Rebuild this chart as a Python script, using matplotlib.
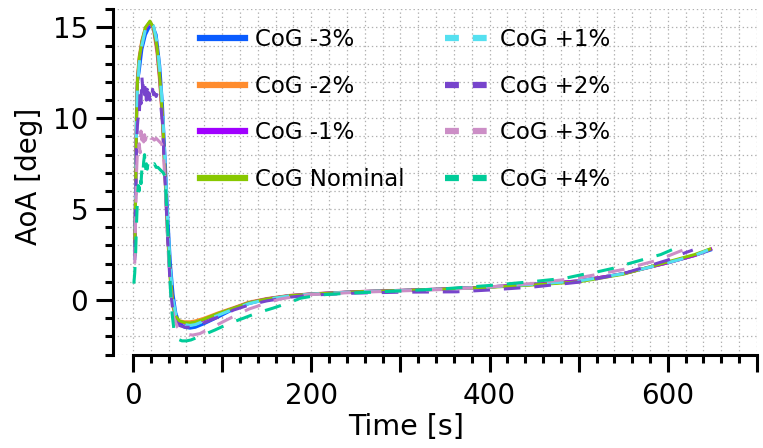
import matplotlib.pyplot as plt
from matplotlib.ticker import MultipleLocator, FixedLocator, FuncFormatter

plt.rcParams['font.family'] = ['DejaVu Sans']
plt.rcParams['lines.scale_dashes'] = False

# AoA history for each centre-of-gravity case (time [s], AoA [deg])
t_m3 = [2, 3, 4, 5, 7, 10, 14, 18, 22, 26, 30, 33, 36, 39, 42, 45, 48, 52, 58, 64, 70, 80, 95, 113, 130,
        150, 175, 200, 250, 300, 350, 400, 450, 500, 550, 600, 630, 648]
a_m3 = [2.6, 6.5, 10.5, 12.0, 12.6, 13.8, 14.6, 15.0, 15.1, 14.6, 12.9, 10.8, 7.8, 4.6, 2.0, 0.3, -0.7, -1.3,
        -1.5, -1.55, -1.5, -1.3, -0.95, -0.5, -0.2, 0.05, 0.22, 0.33, 0.45, 0.52, 0.6, 0.72, 0.87, 1.05,
        1.45, 2.05, 2.45, 2.75]

t_m2 = [2, 3, 4, 5, 7, 10, 14, 19, 23, 27, 30, 33, 36, 39, 42, 45, 48, 52, 58, 64, 70, 80, 95, 113, 130,
        150, 175, 200, 250, 300, 350, 400, 450, 500, 550, 600, 630, 648]
a_m2 = [2.4, 6.2, 10.2, 12.3, 13.4, 14.3, 15.0, 15.3, 14.9, 13.6, 12.0, 9.9, 6.7, 3.4, 1.0, -0.4, -0.95, -1.15,
        -1.2, -1.2, -1.15, -1.0, -0.72, -0.42, -0.12, 0.08, 0.25, 0.34, 0.46, 0.53, 0.61, 0.72, 0.86, 1.05,
        1.45, 2.05, 2.45, 2.8]

t_m1 = [2, 3, 4, 5, 7, 10, 14, 19, 23, 27, 30, 33, 36, 39, 42, 45, 48, 52, 58, 64, 70, 80, 95, 113, 130,
        150, 175, 200, 250, 300, 350, 400, 450, 500, 550, 600, 630, 648]
a_m1 = [2.3, 6.0, 9.8, 12.0, 13.2, 14.2, 14.9, 15.3, 15.0, 13.8, 12.2, 10.1, 6.9, 3.6, 1.2, -0.3, -0.9, -1.2,
        -1.28, -1.3, -1.25, -1.08, -0.78, -0.45, -0.15, 0.06, 0.24, 0.33, 0.46, 0.53, 0.61, 0.72, 0.86, 1.05,
        1.45, 2.05, 2.45, 2.8]

t_nom = [2, 3, 4, 5, 7, 10, 14, 19, 23, 27, 30, 33, 36, 39, 42, 45, 48, 52, 58, 64, 70, 80, 95, 113, 130,
         150, 175, 200, 250, 300, 350, 400, 450, 500, 550, 600, 630, 647]
a_nom = [2.5, 6.0, 10.0, 12.0, 13.3, 14.2, 15.0, 15.35, 15.0, 13.9, 12.3, 10.2, 7.0, 3.7, 1.2, -0.3, -0.9, -1.15,
         -1.25, -1.27, -1.22, -1.05, -0.75, -0.45, -0.15, 0.05, 0.23, 0.32, 0.45, 0.52, 0.6, 0.7, 0.83, 1.0,
         1.42, 2.1, 2.5, 2.8]

t_p1 = [2, 3, 4, 5, 7, 10, 14, 19, 23, 27, 30, 33, 36, 39, 42, 45, 48, 52, 58, 64, 70, 80, 95, 113, 130,
        150, 175, 200, 250, 300, 350, 400, 450, 500, 550, 600, 630, 645]
a_p1 = [2.2, 5.6, 9.4, 11.6, 13.0, 14.0, 14.9, 15.3, 15.1, 14.2, 12.7, 10.7, 7.6, 4.3, 1.7, 0.0, -0.8, -1.2,
        -1.35, -1.4, -1.35, -1.15, -0.85, -0.5, -0.2, 0.03, 0.22, 0.32, 0.45, 0.52, 0.6, 0.72, 0.87, 1.05,
        1.45, 2.05, 2.45, 2.75]

t_p2 = [2, 3, 4, 5, 6, 7, 8, 9, 10, 11, 12, 13, 14, 15, 16, 17, 18, 19, 20, 21, 22, 23, 24, 25, 26, 27, 28,
        29, 30, 31, 33, 36, 39, 42, 45, 48, 52, 58, 64, 70, 80, 95, 113, 130, 150, 175, 200, 250, 300, 363,
        400, 450, 500, 550, 600, 611, 628]
a_p2 = [2.4, 5.5, 8.5, 9.6, 10.2, 10.0, 11.5, 10.8, 12.3, 11.6, 12.2, 11.3, 11.9, 11.0, 11.6, 10.9, 11.4, 11.0,
        11.3, 11.1, 11.6, 11.3, 11.4, 11.3, 11.2, 11.3, 11.1, 11.1, 11.0, 10.8, 9.8, 6.6, 3.3, 0.6, -0.7, -1.2,
        -1.4, -1.5, -1.5, -1.45, -1.25, -0.95, -0.55, -0.28, -0.05, 0.15, 0.27, 0.38, 0.43, 0.45, 0.55, 0.72,
        0.98, 1.45, 2.2, 2.45, 2.75]

t_p3 = [2, 3, 4, 5, 6, 7, 8, 9, 10, 11, 12, 13, 14, 15, 16, 17, 18, 19, 20, 22, 24, 26, 28, 30, 32, 34, 37,
        40, 43, 46, 50, 56, 62, 67, 75, 85, 101, 115, 130, 150, 165, 185, 200, 250, 300, 350, 400, 450, 500,
        550, 589, 622]
a_p3 = [2.0, 4.5, 7.0, 8.2, 8.0, 8.6, 8.1, 9.3, 8.8, 9.2, 8.7, 9.1, 8.8, 9.0, 8.9, 9.1, 8.9, 9.0, 8.9, 8.9,
        8.8, 8.9, 8.8, 8.7, 8.6, 8.3, 5.4, 2.2, 0.0, -1.0, -1.5, -1.8, -1.9, -1.93, -1.85, -1.6, -1.2, -0.85,
        -0.5, -0.17, 0.05, 0.22, 0.3, 0.42, 0.5, 0.58, 0.72, 0.92, 1.22, 1.68, 2.2, 2.85]

t_p4 = [1, 2, 3, 4, 5, 6, 7, 8, 9, 10, 11, 12, 13, 14, 15, 16, 17, 18, 19, 20, 22, 24, 26, 28, 30, 32, 34,
        36, 38, 40, 42, 44, 46, 48, 50, 55, 60, 65, 70, 80, 92, 109, 124, 140, 157, 175, 188, 210, 244, 300,
        350, 400, 450, 485, 504, 521, 539, 556, 574, 592, 611]
a_p4 = [0.9, 1.5, 2.6, 4.2, 5.6, 6.3, 6.0, 6.8, 6.4, 7.2, 6.9, 7.6, 8.0, 7.1, 7.5, 7.2, 7.6, 7.4, 7.5, 7.5,
        7.4, 7.5, 7.3, 7.3, 7.2, 7.1, 7.0, 6.8, 4.8, 2.8, 0.6, -0.8, -1.65, -2.0, -2.15, -2.25, -2.25, -2.2,
        -2.1, -1.9, -1.65, -1.27, -1.0, -0.7, -0.45, -0.15, 0.1, 0.28, 0.38, 0.5, 0.62, 0.8, 1.02, 1.2, 1.4,
        1.55, 1.75, 2.0, 2.25, 2.5, 2.9]

labels = ['CoG -3%', 'CoG -2%', 'CoG -1%', 'CoG Nominal',
          'CoG +1%', 'CoG +2%', 'CoG +3%', 'CoG +4%']
colors = ['#0a5cff', '#ff8c2e', '#a000ff', '#88c800',
          '#55e0f0', '#7744cc', '#cc8ec6', '#00cc99']
series = [(t_m3, a_m3), (t_m2, a_m2), (t_m1, a_m1), (t_nom, a_nom),
          (t_p1, a_p1), (t_p2, a_p2), (t_p3, a_p3), (t_p4, a_p4)]

fig = plt.figure(figsize=(7.63, 4.48), dpi=100)
ax = fig.add_axes([0.1481, 0.2087, 0.8440, 0.7705])

for i, ((t, a), lab, col) in enumerate(zip(series, labels, colors)):
    if i < 4:
        ax.plot(t, a, color=col, lw=2.2, label=lab, solid_joinstyle='round')
    else:
        ax.plot(t, a, color=col, lw=2.2, label=lab, dashes=(12, 10))

ax.set_xlim(-22.4, 700)
ax.set_ylim(-3, 16)

# time axis starts at 0: long ticks every 100 s, short ones every 20 s
ax.xaxis.set_major_locator(FixedLocator(list(range(0, 701, 100))))
ax.xaxis.set_minor_locator(FixedLocator([v for v in range(0, 701, 20) if v % 100]))
ax.xaxis.set_major_formatter(FuncFormatter(lambda v, p: f'{v:.0f}' if v % 200 == 0 else ''))
ax.yaxis.set_major_locator(MultipleLocator(5))
ax.yaxis.set_minor_locator(MultipleLocator(1))

for s in ['top', 'right']:
    ax.spines[s].set_visible(False)
for s in ['left', 'bottom']:
    ax.spines[s].set_linewidth(2.2)
ax.spines['bottom'].set_bounds(0, 700)

ax.tick_params(which='major', direction='out', length=12, width=2.2, labelsize=20, pad=6)
ax.tick_params(which='minor', direction='out', length=6, width=2.2)
ax.tick_params(axis='x', which='major', pad=8)

ax.grid(which='both', color='#b0b0b0', linestyle=(0, (1, 2)), linewidth=0.9)
ax.set_axisbelow(True)

ax.set_xlabel('Time [s]', fontsize=20.5)
ax.set_ylabel('AoA [deg]', fontsize=20)
ax.xaxis.set_label_coords(0.455, -0.17)
ax.yaxis.set_label_coords(-0.108, 0.515)

leg = ax.legend(ncol=2, frameon=False, fontsize=16.5, loc='upper left',
                bbox_to_anchor=(0.262, 0.937), bbox_transform=fig.transFigure,
                handlelength=1.96, handletextpad=0.44, columnspacing=1.75,
                labelspacing=1.03, borderpad=0, borderaxespad=0)
for i, h in enumerate(leg.get_lines()):
    h.set_linewidth(4.5)
    if i >= 4:
        h.set_dashes((10, 10))

fig.savefig('out.png', dpi=100)
